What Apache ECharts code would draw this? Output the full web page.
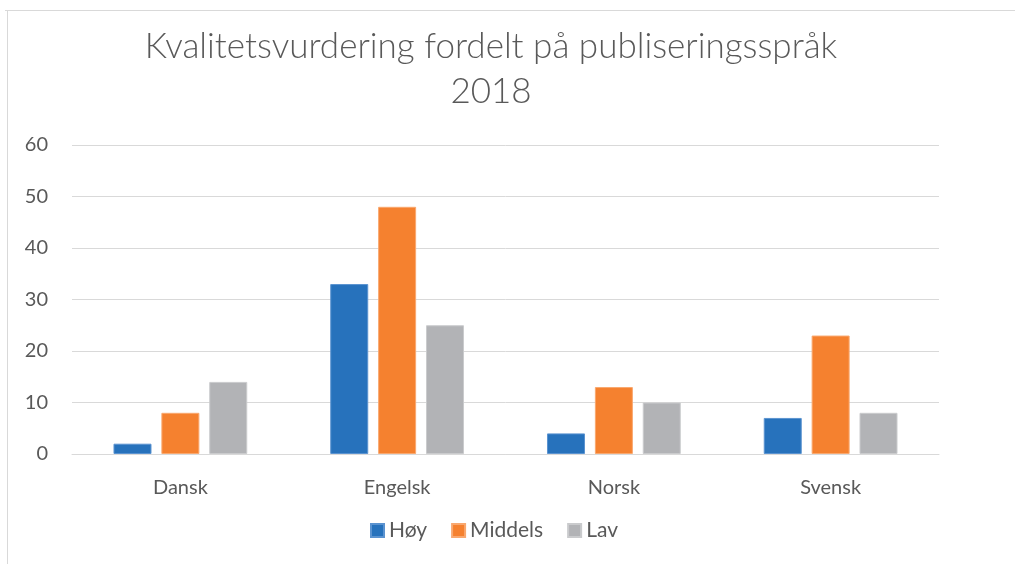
<!DOCTYPE html>
<html>
<head>
<meta charset="utf-8">
<script src="https://cdn.jsdelivr.net/npm/echarts@6/dist/echarts.min.js"></script>
<style>html,body{margin:0;padding:0;background:#fff}#c{width:1015px;height:564px}</style>
</head>
<body>
<div id="c"></div>
<script>
const categories = ['Dansk', 'Engelsk', 'Norsk', 'Svensk'];
const hoy = [2, 33, 4, 7];
const middels = [8, 48, 13, 23];
const lav = [14, 25, 10, 8];
const yTicks = [0, 10, 20, 30, 40, 50, 60];

const FONT = 'Lato, "Open Sans", sans-serif';
const TXT = '#595959';
const chart = echarts.init(document.getElementById('c'), null, {renderer: 'canvas'});
chart.setOption({
  animation: false,
  backgroundColor: '#fff',
  title: {
    text: 'Kvalitetsvurdering fordelt på publiseringsspråk\n2018',
    left: 486,
    top: 19,
    textAlign: 'center',
    textStyle: {fontFamily: FONT, fontWeight: 300, fontSize: 35, color: TXT, lineHeight: 45, align: 'center'}
  },
  legend: {
    top: 515,
    left: 365,
    itemWidth: 13,
    itemHeight: 13,
    itemGap: 24,
    icon: 'rect',
    textStyle: {fontFamily: FONT, fontSize: 21, color: TXT},
    data: ['Høy', 'Middels', 'Lav']
  },
  grid: {left: 72, right: 76, top: 145, bottom: 110, containLabel: false},
  xAxis: {
    type: 'category',
    data: categories,
    axisLine: {lineStyle: {color: '#d9d9d9', width: 1}},
    axisTick: {show: false},
    axisLabel: {fontFamily: FONT, fontSize: 20, color: TXT, margin: 24}
  },
  yAxis: {
    type: 'value',
    min: yTicks[0],
    max: yTicks[yTicks.length - 1],
    interval: 10,
    axisLine: {show: false},
    axisTick: {show: false},
    splitLine: {lineStyle: {color: '#d9d9d9', width: 1}},
    axisLabel: {fontFamily: FONT, fontSize: 20, color: TXT, margin: 24}
  },
  series: [
    {name: 'Høy', type: 'bar', data: hoy, barWidth: 38, barGap: '26%',
      itemStyle: {color: '#2772BC', borderColor: '#5B93D0', borderWidth: 1}},
    {name: 'Middels', type: 'bar', data: middels, barWidth: 38, barGap: '26%',
      itemStyle: {color: '#F5812F', borderColor: '#F9A86F', borderWidth: 1}},
    {name: 'Lav', type: 'bar', data: lav, barWidth: 38, barGap: '26%',
      itemStyle: {color: '#B2B3B6', borderColor: '#CACBCD', borderWidth: 1}}
  ],
  graphic: [
    {type: 'line', shape: {x1: 5, y1: 10.5, x2: 1015, y2: 10.5}, style: {stroke: '#d9d9d9', lineWidth: 1}},
    {type: 'line', shape: {x1: 7.5, y1: 10, x2: 7.5, y2: 564}, style: {stroke: '#d9d9d9', lineWidth: 1}}
  ]
});
</script>
</body>
</html>
